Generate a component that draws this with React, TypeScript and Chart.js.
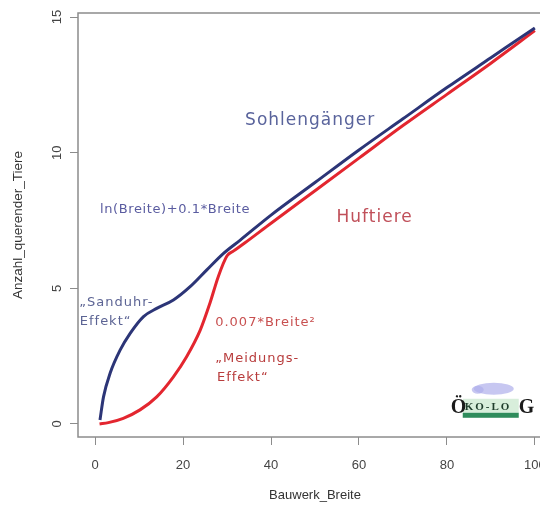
import React, { useEffect, useRef } from "react";
import { Chart, registerables } from "chart.js";

Chart.register(...registerables);

// Axis ticks
const xTicks = [0, 20, 40, 60, 80, 100];
const yTicks = [0, 5, 10, 15];

// Sohlengänger: ln(Breite)+0.1*Breite
const blueX = [1.1, 1.9, 3.4, 5.7, 8, 11, 14, 17.8, 21.6, 25.4, 29.2, 33, 40, 50, 60, 70, 80, 90, 100];
const blueY = [0.15, 1.0, 1.87, 2.73, 3.35, 3.96, 4.26, 4.57, 5.06, 5.68, 6.29, 6.78, 7.7, 8.9, 10.1, 11.25, 12.4, 13.5, 14.6];

// Huftiere: 0.007*Breite²
const redX = [1, 3, 6.4, 10.2, 14, 17.8, 20.8, 23.9, 26.1, 28, 30, 31.5, 34, 40, 50, 60, 70, 80, 90, 100];
const redY = [0, 0.05, 0.21, 0.52, 1.0, 1.74, 2.48, 3.46, 4.45, 5.43, 6.2, 6.38, 6.67, 7.4, 8.6, 9.8, 11.0, 12.15, 13.3, 14.5];

const xTitle = "Bauwerk_Breite";
const yTitle = "Anzahl_querender_Tiere";

const X_MIN = -3.9;
const X_MAX = 103.9;
const Y_MIN = -0.48;
const Y_MAX = 15.15;

const CW = 560;
const CH = 505;

export default function App() {
  const ref = useRef<HTMLCanvasElement>(null);

  useEffect(() => {
    const canvas = ref.current!;
    const annot = {
      id: "annot",
      afterDraw(chart: any) {
        const ctx = chart.ctx as CanvasRenderingContext2D;
        const ca = chart.chartArea;
        const xs = chart.scales.x;
        const ys = chart.scales.y;
        ctx.save();
        // box
        ctx.strokeStyle = "#8c8c8c";
        ctx.lineWidth = 1.5;
        ctx.strokeRect(ca.left, ca.top, ca.right - ca.left, ca.bottom - ca.top);

        // y tick labels (rotated, like R)
        ctx.fillStyle = "#444";
        ctx.font = "13px 'Liberation Sans'";
        ctx.textAlign = "center";
        ctx.textBaseline = "middle";
        yTicks.forEach((v) => {
          const py = ys.getPixelForValue(v);
          ctx.save();
          ctx.translate(57, py);
          ctx.rotate(-Math.PI / 2);
          ctx.fillText(String(v), 0, 0);
          ctx.restore();
        });

        // axis titles
        ctx.fillStyle = "#333";
        ctx.font = "13px 'Liberation Sans'";
        ctx.fillText(xTitle, (ca.left + ca.right) / 2, 495);
        ctx.save();
        ctx.translate(18, (ca.top + ca.bottom) / 2);
        ctx.rotate(-Math.PI / 2);
        ctx.font = "13.5px 'Liberation Sans'";
        ctx.fillText(yTitle, 0, 0);
        ctx.restore();

        // annotations
        const txt = (s: string, xv: number, yv: number, size: number, color: string, sp = 1) => {
          ctx.font = `${size}px 'DejaVu Sans'`;
          (ctx as any).letterSpacing = `${sp}px`;
          ctx.fillStyle = color;
          ctx.textAlign = "left";
          ctx.textBaseline = "middle";
          ctx.fillText(s, xs.getPixelForValue(xv), ys.getPixelForValue(yv));
          (ctx as any).letterSpacing = "0px";
        };
        txt("Sohlengänger", 34.1, 11.2, 17, "#5a649c");
        txt("ln(Breite)+0.1*Breite", 1.1, 7.9, 13, "#5a5ca0", 0.6);
        txt("Huftiere", 54.9, 7.6, 17, "#c0505a");
        txt("\u201ESanduhr-", -3.6, 4.46, 13, "#5c6494");
        txt("Effekt\u201C", -3.5, 3.76, 13, "#5c6494");
        txt("0.007*Breite²", 27.3, 3.72, 13, "#c85050");
        txt("\u201EMeidungs-", 27.3, 2.4, 13, "#b83c3c");
        txt("Effekt\u201C", 27.7, 1.7, 13, "#b83c3c");

        // logo
        const lx = xs.getPixelForValue(81.1);
        const ly = ys.getPixelForValue(0.45);
        ctx.fillStyle = "rgba(175,175,235,0.7)";
        ctx.beginPath();
        ctx.ellipse(lx + 42, ly - 23, 20, 6, 0, 0, Math.PI * 2);
        ctx.fill();
        ctx.beginPath();
        ctx.ellipse(lx + 26, ly - 22, 6, 4, 0, 0, Math.PI * 2);
        ctx.fill();
        ctx.fillStyle = "#d8eedb";
        ctx.fillRect(lx + 11, ly - 13, 56, 14);
        ctx.fillStyle = "#2f8c5c";
        ctx.fillRect(lx + 11, ly + 1, 56, 5);
        ctx.fillStyle = "#1a1a1a";
        ctx.textBaseline = "alphabetic";
        ctx.textAlign = "left";
        ctx.font = "bold 20px 'Liberation Serif'";
        ctx.fillText("Ö", lx - 1, ly + 1);
        ctx.fillText("G", lx + 67, ly + 1);
        ctx.font = "bold 11px 'Liberation Serif'";
        (ctx as any).letterSpacing = "2px";
        ctx.fillStyle = "#1f3d2c";
        ctx.fillText("KO-LO", lx + 13, ly - 2);
        (ctx as any).letterSpacing = "0px";
        ctx.restore();
      },
    };

    const chart = new Chart(canvas, {
      type: "line",
      data: {
        datasets: [
          {
            data: blueX.map((x, i) => ({ x, y: blueY[i] })),
            borderColor: "#2c3577",
            borderWidth: 3,
            pointRadius: 0,
            cubicInterpolationMode: "monotone",
            fill: false,
          },
          {
            data: redX.map((x, i) => ({ x, y: redY[i] })),
            borderColor: "#e3262f",
            borderWidth: 3,
            pointRadius: 0,
            cubicInterpolationMode: "monotone",
            fill: false,
          },
        ],
      },
      options: {
        responsive: false,
        animation: false,
        devicePixelRatio: 1,
        layout: { padding: { top: 13, right: 8, left: 0, bottom: 0 } },
        plugins: { legend: { display: false }, tooltip: { enabled: false } },
        scales: {
          x: {
            type: "linear",
            min: X_MIN,
            max: X_MAX,
            afterBuildTicks: (s: any) => {
              s.ticks = xTicks.map((v) => ({ value: v }));
            },
            afterFit: (s: any) => {
              s.height = 68;
            },
            grid: { drawOnChartArea: false, drawTicks: true, tickLength: 8, color: "#8c8c8c", lineWidth: 1 },
            border: { display: false },
            ticks: {
              padding: 13,
              font: { family: "'Liberation Sans'", size: 13 },
              color: "#444",
              maxRotation: 0,
              autoSkip: false,
            },
          },
          y: {
            type: "linear",
            min: Y_MIN,
            max: Y_MAX,
            afterBuildTicks: (s: any) => {
              s.ticks = yTicks.map((v) => ({ value: v }));
            },
            afterFit: (s: any) => {
              s.width = 78;
            },
            grid: { drawOnChartArea: false, drawTicks: true, tickLength: 8, color: "#8c8c8c", lineWidth: 1 },
            border: { display: false },
            ticks: { display: false },
          },
        },
      },
      plugins: [annot],
    } as any);
    return () => chart.destroy();
  }, []);

  return (
    <div
      style={{
        position: "absolute",
        left: 0,
        top: 0,
        width: 540,
        height: 505,
        overflow: "hidden",
        background: "#fff",
      }}
    >
      <canvas ref={ref} width={CW} height={CH} style={{ display: "block" }} />
    </div>
  );
}
